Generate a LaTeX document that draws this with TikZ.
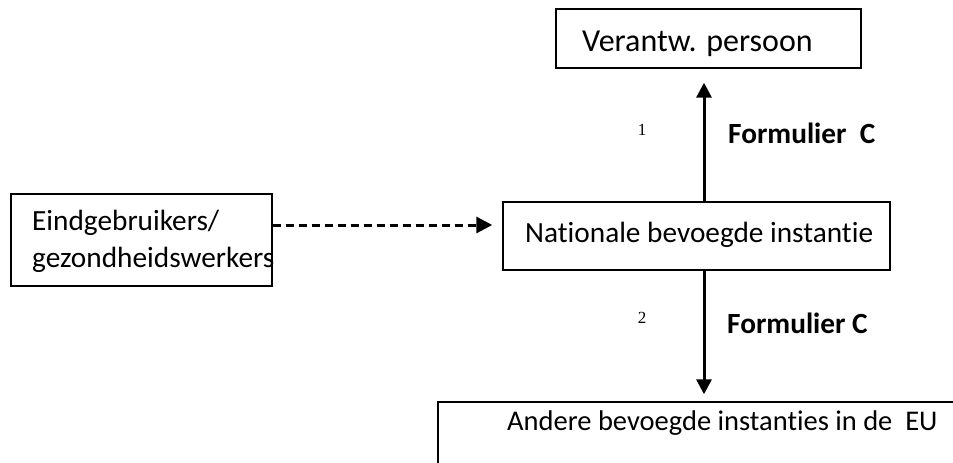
\documentclass[tikz,border=0pt]{standalone}
\usepackage{fontspec}
\setmainfont{Carlito}[Ligatures=NoCommon]
\newfontfamily\numfont{Liberation Serif}
\usetikzlibrary{arrows.meta}
\begin{document}
\begin{tikzpicture}[x=1pt,y=-1pt,
  box/.style={draw, line width=1.4pt, inner sep=0pt},
  txt/.style={anchor=base west, inner sep=0pt, font=\fontsize{29.3}{35}\selectfont},
  btxt/.style={txt, font=\fontsize{29.3}{35}\selectfont\bfseries},
  num/.style={inner sep=0pt, font=\numfont\fontsize{17}{20}\selectfont},
  arr/.style={line width=3pt, -{Triangle[length=15pt,width=15pt]}},
  darr/.style={line width=3pt, dash pattern=on 8pt off 5pt, -{Triangle[length=16pt,width=16pt]}}]
\useasboundingbox (0,0) rectangle (953,463);
\fill[white] (0,0) rectangle (953,463);
% boxes
\node[box, minimum width=305pt, minimum height=59pt] (top) at (708.5,38.5) {};
\node[box, minimum width=387pt, minimum height=68pt] (mid) at (696.5,236) {};
\node[box, minimum width=261pt, minimum height=92pt] (left) at (141.5,240) {};
\node[box, minimum width=522pt, minimum height=68pt] (bot) at (699,436) {};
% texts
\node[txt, font=\fontsize{32}{36}\selectfont] (ttop) at (582,51) {Verantw. persoon};
\node[txt] (tmid) at (525,242) {Nationale bevoegde instantie};
\node[txt] (tleft1) at (32,230) {Eindgebruikers/};
\node[txt] (tleft2) at (32,267) {gezondheidswerkers};
\node[txt, font=\fontsize{28.5}{34}\selectfont] (tbot) at (507,430) {Andere bevoegde instanties in de\ \ EU};
\node[btxt] (f1) at (728,143) {Formulier\ \ C};
\node[btxt] (f2) at (727,333) {Formulier C};
\node[num] (n1) at (642,130) {1};
\node[num] (n2) at (642,318) {2};
% connectors
\draw[arr, shorten >=14pt] ([xshift=7.5pt]mid.north) -- ([xshift=-4.5pt]top.south);
\draw[arr, shorten >=7pt] ([xshift=7.5pt]mid.south) -- ([xshift=5pt]bot.north);
\draw[darr, shorten >=10pt] ([yshift=15pt]left.east) -- ([yshift=11pt]mid.west);
\end{tikzpicture}
\end{document}
